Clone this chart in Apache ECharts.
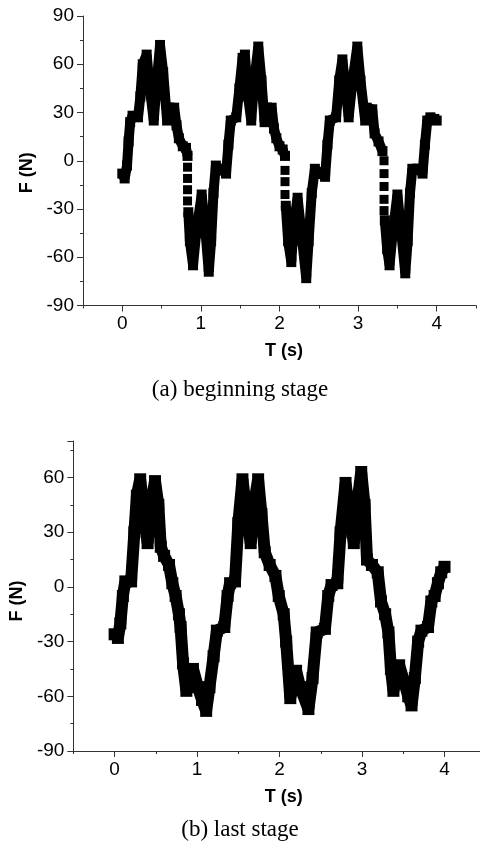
<!DOCTYPE html>
<html>
<head>
<meta charset="utf-8">
<title>F - T curves</title>
<script src="https://cdn.jsdelivr.net/npm/echarts@6/dist/echarts.min.js"></script>
<style>
  html, body { margin: 0; padding: 0; background: #fff; }
  #chart { width: 480px; height: 850px; }
</style>
</head>
<body>
<div id="chart"></div>
<script>
// (a) beginning stage - null breaks the line where the samples get sparse
const beginT = [0.00, 0.03, 0.06, 0.08, 0.10, 0.13, 0.20, 0.23, 0.26, 0.31, 0.35, 0.40, 0.44, 0.48, 0.52, 0.57, 0.60, 0.66, 0.69, 0.72, 0.77, 0.81, 0.83, 0.83,
  0.84, 0.86, 0.90, 0.94, 1.01, 1.06, 1.10, 1.13, 1.16, 1.19, 1.24, 1.32, 1.35, 1.38, 1.45, 1.49, 1.53, 1.56, 1.60, 1.64, 1.68, 1.73, 1.77, 1.81, 1.84, 1.90, 1.93, 1.96, 2.00, 2.04, 2.07, 2.07,
  2.08, 2.11, 2.15, 2.18, 2.23, 2.29, 2.34, 2.37, 2.41, 2.45, 2.52, 2.58, 2.61, 2.64, 2.72, 2.76, 2.80, 2.84, 2.88, 2.93, 2.99, 3.03, 3.09, 3.11, 3.18, 3.21, 3.26, 3.31, 3.31,
  3.34, 3.37, 3.40, 3.44, 3.50, 3.55, 3.60, 3.63, 3.66, 3.69, 3.76, 3.82, 3.85, 3.88, 3.92, 3.97, 4.00]
const beginF = [-8, -11, -3, 12, 24, 28, 27, 40, 60, 66, 45, 25, 50, 72, 55, 25, 33, 33, 22, 14, 9, 8, 3, null,
  -32, -50, -65, -45, -21, -45, -69, -50, -20, -3, -5, -8, 10, 25, 27, 45, 64, 66, 40, 25, 50, 71, 50, 24, 33, 33, 20, 14, 9, 7, 3, null,
  -28, -50, -63, -40, -23, -50, -73, -50, -20, -5, -8, -10, 10, 25, 27, 50, 63, 45, 27, 50, 71, 50, 25, 33, 32, 17, 12, 6, null,
  -37, -55, -65, -45, -21, -45, -70, -50, -20, -5, -5, -8, 10, 25, 27, 26, 25]
const beginDropT = [0.83, 0.83, 0.83, 0.83, 2.07, 2.07, 2.07, 3.33, 3.33, 3.33, 3.33, 3.33]
const beginDropF = [-4, -11, -18, -25, -6, -13, -21, 0, -8, -16, -24, -31]

// (b) last stage
const lastT = [0.00, 0.04, 0.07, 0.10, 0.13, 0.20, 0.24, 0.27, 0.31, 0.36, 0.40, 0.44, 0.49, 0.53, 0.56, 0.60, 0.66, 0.70, 0.74, 0.78, 0.80, 0.83, 0.87, 0.95, 1.01, 1.06, 1.11, 1.15,
  1.20, 1.24, 1.33, 1.37, 1.40, 1.46, 1.50, 1.55, 1.60, 1.65, 1.69, 1.74, 1.78, 1.82, 1.88, 1.95, 1.99, 2.05, 2.08, 2.13, 2.20, 2.25, 2.35, 2.40,
  2.45, 2.55, 2.59, 2.63, 2.70, 2.74, 2.80, 2.85, 2.90, 2.94, 2.99, 3.03, 3.06, 3.12, 3.19, 3.23, 3.28, 3.32, 3.35, 3.38, 3.45, 3.51, 3.56, 3.60, 3.64,
  3.68, 3.72, 3.80, 3.84, 3.88, 3.92, 3.96, 4.00]
const lastF = [-26, -28, -20, -5, 3, 3, 30, 50, 59, 40, 24, 45, 58, 45, 22, 17, 12, 2, -5, -15, -22, -42, -57, -45, -55, -62, -68, -55,
  -38, -24, -22, -5, 2, 3, 35, 59, 40, 24, 45, 59, 40, 19, 12, 6, -5, -15, -30, -61, -46, -55, -67, -50,
  -25, -23, -5, 1, 2, 30, 57, 40, 24, 45, 63, 45, 15, 12, 8, -8, -15, -25, -45, -57, -43, -52, -60, -65, -50,
  -30, -24, -22, -8, -5, 2, 8, 11]

const intTicks = [0, 1, 2, 3, 4]
const halfTicks = [-0.5, 0.5, 1.5, 2.5, 3.5, 4.5]

const zip = (xs, ys) => xs.map((x, i) => [x, ys[i]])

const sans = 'Liberation Sans, Arial, sans-serif'
const serif = 'Liberation Serif, Times New Roman, serif'
const axisColor = '#333'

const xAxisMain = (grid, max, pad) => ({
  type: 'value',
  gridIndex: grid,
  min: -0.5,
  max: max,
  interval: 0.5,
  name: 'T (s)',
  nameLocation: 'middle',
  nameGap: 37,
  nameTextStyle: { fontFamily: sans, fontSize: 18, fontWeight: 'bold', color: '#000', padding: [0, 0, 0, pad] },
  axisLine: { show: true, onZero: false, lineStyle: { color: axisColor } },
  axisTick: { show: true, length: 6, customValues: intTicks, lineStyle: { color: axisColor } },
  axisLabel: {
    fontFamily: sans, fontSize: 19, color: '#000', margin: 9,
    customValues: intTicks,
    formatter: v => (Number.isInteger(v) ? String(v) : '')
  },
  splitLine: { show: false }
})

const xAxisHalf = (grid, max) => ({
  type: 'value',
  gridIndex: grid,
  position: 'bottom',
  min: -0.5,
  max: max,
  interval: 0.5,
  axisLine: { show: false, onZero: false },
  axisTick: { show: true, length: 3, customValues: halfTicks, lineStyle: { color: axisColor } },
  axisLabel: { show: false },
  splitLine: { show: false }
})

const yAxis = (grid, max, gap, pad) => ({
  type: 'value',
  gridIndex: grid,
  min: -90,
  max: max,
  interval: 30,
  name: 'F (N)',
  nameLocation: 'middle',
  nameGap: gap,
  nameTextStyle: { fontFamily: sans, fontSize: 18, fontWeight: 'bold', color: '#000', padding: [0, pad, 0, 0] },
  axisLine: { show: true, onZero: false, lineStyle: { color: axisColor } },
  axisTick: { show: true, length: 6, lineStyle: { color: axisColor } },
  minorTick: { show: true, splitNumber: 2, length: 3, lineStyle: { color: axisColor } },
  axisLabel: {
    fontFamily: sans, fontSize: 19, color: '#000', margin: 9,
    formatter: v => (v % 30 === 0 ? String(v) : '')
  },
  splitLine: { show: false }
})

const lineSeries = (xi, yi, data, size) => ({
  type: 'line',
  xAxisIndex: xi,
  yAxisIndex: yi,
  data: data,
  connectNulls: false,
  symbol: 'rect',
  symbolSize: size,
  showAllSymbol: true,
  itemStyle: { color: '#000', opacity: 1 },
  lineStyle: { color: '#000', width: size, join: 'bevel' },
  silent: true
})

const chart = echarts.init(document.getElementById('chart'), null, { renderer: 'canvas' })

chart.setOption({
  animation: false,
  backgroundColor: '#fff',
  title: [
    { text: '(a) beginning stage', left: 'center', top: 378, padding: [0, 0, 0, 9],
      textStyle: { fontFamily: serif, fontSize: 23, fontWeight: 'normal', color: '#000' } },
    { text: '(b) last stage', left: 'center', top: 818, padding: [0, 0, 0, 10],
      textStyle: { fontFamily: serif, fontSize: 23, fontWeight: 'normal', color: '#000' } }
  ],
  grid: [
    { left: 83, top: 16, right: 4, height: 289.5 },
    { left: 66, top: 441, right: 0, height: 310 }
  ],
  xAxis: [
    xAxisMain(0, 4.5, 9),
    xAxisHalf(0, 4.5),
    xAxisMain(1, 4.43, 14),
    xAxisHalf(1, 4.43)
  ],
  yAxis: [
    yAxis(0, 90, 47, 24),
    yAxis(1, 80, 38, 10)
  ],
  series: [
    lineSeries(0, 0, zip(beginT, beginF), 10),
    {
      type: 'scatter',
      xAxisIndex: 0,
      yAxisIndex: 0,
      data: zip(beginDropT, beginDropF),
      symbol: 'rect',
      symbolSize: 9,
      itemStyle: { color: '#000', opacity: 1 },
      silent: true
    },
    lineSeries(2, 1, zip(lastT, lastF), 12)
  ]
})
</script>
</body>
</html>
